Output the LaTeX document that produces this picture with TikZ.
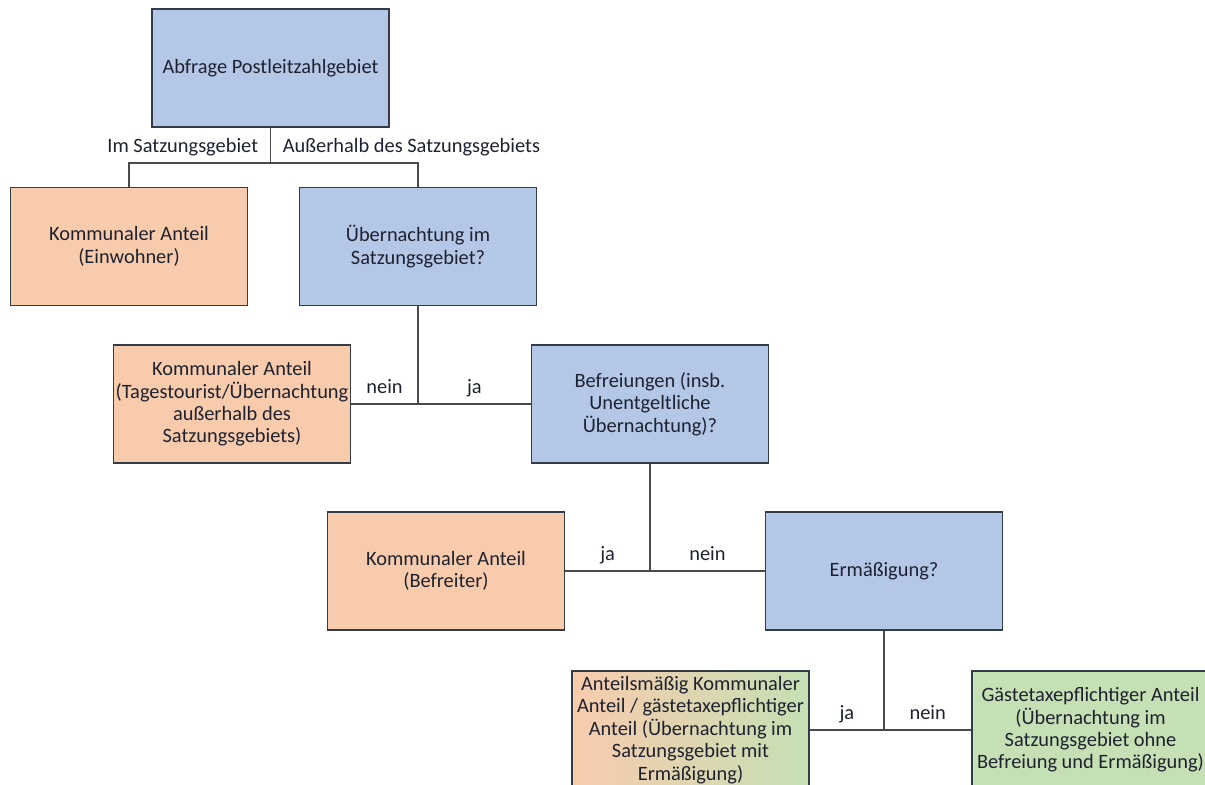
\documentclass[tikz,border=0pt]{standalone}
\usepackage{fontspec}
\setmainfont{Carlito}
\usepackage{tikz}
\usepackage{xcolor}
\usetikzlibrary{positioning}
\definecolor{Query}{HTML}{B4C7E7}
\definecolor{Local}{HTML}{F8CBAD}
\definecolor{Guest}{HTML}{C5E0B4}
\definecolor{Frame}{HTML}{333A48}
\definecolor{Wire}{HTML}{4A4A4A}
\definecolor{Ink}{HTML}{1E2230}
\tikzset{
  box/.style={draw=Frame,line width=0.65pt,minimum width=118.5pt,minimum height=59pt,
    inner sep=0.5pt,align=center,text=Ink,font=\fontsize{10.2}{11.2}\selectfont},
  ask/.style={box,fill=Query},
  local/.style={box,fill=Local},
  guest/.style={box,fill=Guest},
  mixed/.style={box,left color=Local,right color=Guest},
  wire/.style={Wire,line width=0.6pt},
  tag/.style={text=Ink,inner sep=1pt,text height=6.8pt,text depth=2pt,font=\fontsize{10.2}{11.2}\selectfont}
}
\begin{document}
\begin{tikzpicture}[x=0.5pt,y=-0.5pt]
  \useasboundingbox (0,0) rectangle (1205,785);
  \clip (0,0) rectangle (1205,785);
  \node[ask] (plz) at (270.5,68) {Abfrage Postleitzahlgebiet};
  \node[local] (einw) at (129,246.5) {Kommunaler Anteil\\(Einwohner)};
  \node[ask] (uebern) at (418,246.5) {Übernachtung im\\Satzungsgebiet?};
  \node[local] (tages) at (232,404) {Kommunaler Anteil\\(Tagestourist/Übernachtung\\außerhalb des\\Satzungsgebiets)};
  \node[ask] (befr) at (650,404) {Befreiungen (insb.\\Unentgeltliche\\Übernachtung)?};
  \node[local] (befreit) at (446,571) {Kommunaler Anteil\\(Befreiter)};
  \node[ask] (erm) at (884,571) {Ermäßigung?};
  \node[mixed] (anteil) at (690.5,730) {Anteilsmäßig Kommunaler\\Anteil / gästetaxepflichtiger\\Anteil (Übernachtung im\\Satzungsgebiet mit\\Ermäßigung)};
  \node[guest] (gast) at (1090.5,730) {Gästetaxepflichtiger Anteil\\(Übernachtung im\\Satzungsgebiet ohne\\Befreiung und Ermäßigung)};
  \coordinate (split) at (plz.south |- 0,163);
  \coordinate (j1) at (uebern.south |- tages.east);
  \coordinate (j2) at (befr.south |- befreit.east);
  \coordinate (j3) at (erm.south |- anteil.east);
  \draw[wire] (plz.south) -- (split);
  \draw[wire] (einw.north) |- (split) -| (uebern.north);
  \node[tag,above left=2pt and 5pt of split] (lin) {Im Satzungsgebiet};
  \node[tag,above right=2pt and 5pt of split] (lout) {Außerhalb des Satzungsgebiets};
  \draw[wire] (uebern.south) -- (j1);
  \draw[wire] (tages.east) -- node[tag,above=2pt] (n1) {nein} (j1) -- node[tag,above=2pt] (y1) {ja} (befr.west);
  \draw[wire] (befr.south) -- (j2);
  \draw[wire] (befreit.east) -- node[tag,above=2pt] (y2) {ja} (j2) -- node[tag,above=2pt] (n2) {nein} (erm.west);
  \draw[wire] (erm.south) -- (j3);
  \draw[wire] (anteil.east) -- node[tag,above=2pt] (y3) {ja} (j3) -- node[tag,above=2pt] (n3) {nein} (gast.west);
\end{tikzpicture}
\end{document}
